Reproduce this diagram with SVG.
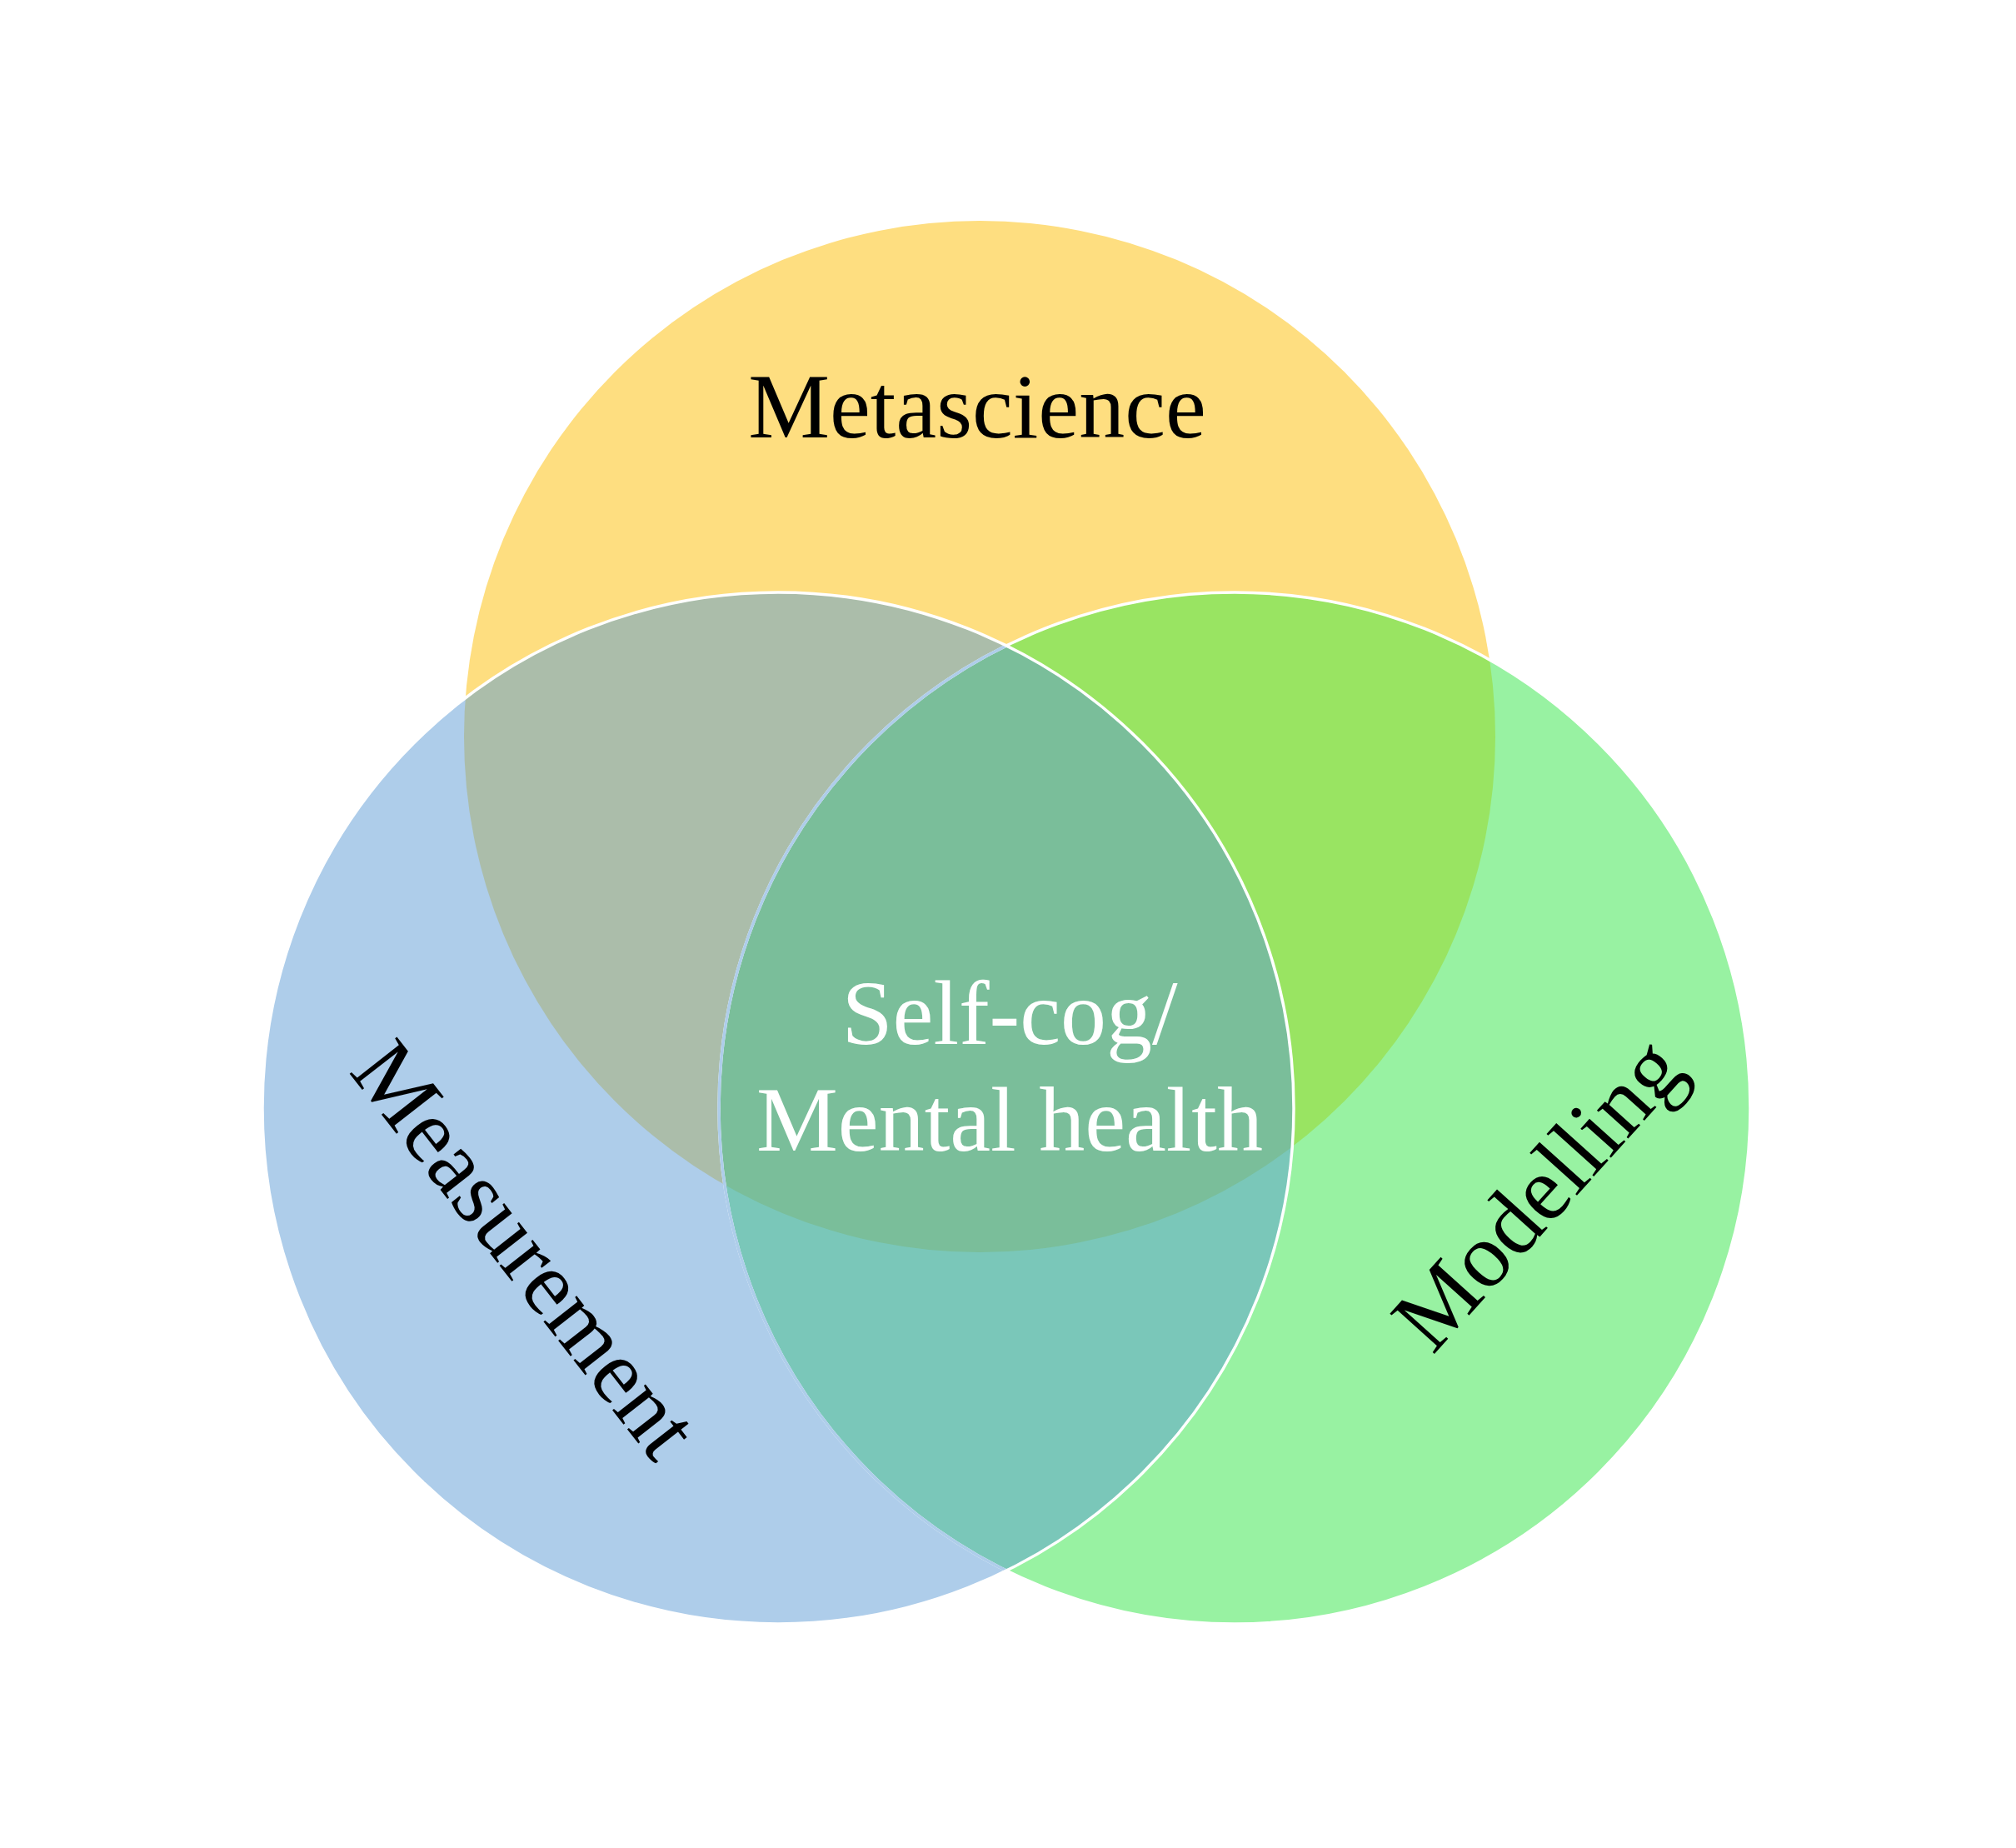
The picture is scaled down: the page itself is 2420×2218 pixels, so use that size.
<svg xmlns="http://www.w3.org/2000/svg" width="2420" height="2218" viewBox="0 0 2420 2218">
<defs>
<clipPath id="clipY"><circle cx="1176" cy="884" r="619"/></clipPath>
<clipPath id="clipB"><circle cx="934" cy="1330" r="619"/></clipPath>
</defs>
<style>
text { font-family: "Liberation Serif", "Times New Roman", serif; font-size: 110px; text-anchor: middle; }
.lbl { fill: #000000; }
.ctr { fill: #ffffff; }
.edge { fill: none; stroke-width: 3.5; }
</style>
<rect width="2420" height="2218" fill="#ffffff"/>
<g id="set-metascience"><circle cx="1176" cy="884" r="619" fill="#FEDE80"/></g>
<g id="set-measurement"><circle cx="934" cy="1330" r="619" fill="#AECDEA"/></g>
<g id="set-modelling"><circle cx="1482" cy="1330" r="619" fill="#98F2A2"/></g>
<g id="overlaps">
<circle cx="934" cy="1330" r="619" fill="#ABBDAA" clip-path="url(#clipY)"/>
<circle cx="1482" cy="1330" r="619" fill="#99E462" clip-path="url(#clipY)"/>
<circle cx="1482" cy="1330" r="619" fill="#7AC7B9" clip-path="url(#clipB)"/>
<g clip-path="url(#clipY)"><circle cx="1482" cy="1330" r="619" fill="#7ABE9A" clip-path="url(#clipB)"/></g>
</g>
<g id="outlines">
<circle class="edge" cx="1482" cy="1330" r="619" stroke="#ffffff"/>
<circle class="edge" cx="1482" cy="1330" r="619" stroke="#AECDEA" clip-path="url(#clipB)"/>
<circle class="edge" cx="934" cy="1330" r="619" stroke="#ffffff"/>
</g>
<g id="labels">
<text class="lbl" x="1173" y="525">Metascience</text>
<text class="lbl" transform="translate(602,1522) rotate(52)">Measurement</text>
<text class="lbl" transform="translate(1873,1457) rotate(-48)">Modelling</text>
<text class="ctr" x="1212" y="1253">Self-cog/</text>
<text class="ctr" x="1212" y="1381">Mental health</text>
</g>
</svg>
